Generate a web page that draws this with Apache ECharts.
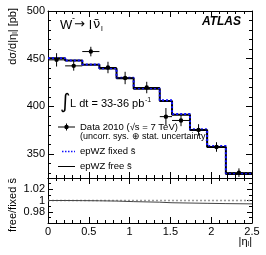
<!DOCTYPE html>
<html><head><meta charset="utf-8">
<script src="https://cdn.jsdelivr.net/npm/echarts@6/dist/echarts.min.js"></script>
<style>html,body{margin:0;padding:0;background:#fff}#c{width:266px;height:255px}</style>
</head><body><div id="c"></div>
<script>
// ---- data ----
const binEdges    = [0, 0.21, 0.42, 0.63, 0.84, 1.05, 1.37, 1.52, 1.74, 1.95, 2.18, 2.5];
const dataValues  = [448.8, 442.5, 457.5, 440.8, 429.8, 419.8, 389.3, 385.3, 375.4, 357.5, 330.6];
const dataErrors  = [7, 5, 5, 6, 6.5, 6, 9, 6, 6, 5, 4.5];
const fixedValues = [450.5, 448.2, 444.0, 440.0, 430.0, 419.0, 406.5, 392.0, 376.0, 358.5, 330.0];
const freeValues  = [450.4, 448.1, 443.8, 439.7, 429.5, 418.5, 405.8, 391.2, 375.2, 357.6, 329.2];
const ratioFixed  = [1, 1, 1, 1, 1, 1, 1, 1, 1, 1, 1];
const ratioFree   = [1.0, 0.9998, 0.9995, 0.999, 0.998, 0.997, 0.996, 0.9955, 0.995, 0.9945, 0.994];
const mainYLabels  = [350, 400, 450, 500];
const ratioYLabels = [0.98, 1, 1.02];

const FONT = 'Liberation Sans';
const n = dataValues.length;
const stepData = vals => binEdges.map((e, i) => [e, vals[Math.min(i, n - 1)]]);
const pointData = dataValues.map((v, i) => [binEdges[i], binEdges[i + 1], v, dataErrors[i], (binEdges[i] + binEdges[i + 1]) / 2]);

const G0 = {left: 48, top: 11, width: 204, height: 167};
const G1 = {left: 48, top: 178, width: 204, height: 45};

function xAx(grid, pos, labels) {
  return {
    type: 'value', gridIndex: grid, position: pos, min: 0, max: 2.5, interval: 0.5,
    axisLine: {show: true, onZero: false, lineStyle: {color: '#000', width: 1}},
    axisTick: {show: true, inside: true, length: 6, lineStyle: {color: '#000'}},
    minorTick: {show: true, splitNumber: 5, length: 3, lineStyle: {color: '#000'}},
    splitLine: {show: false}, minorSplitLine: {show: false},
    axisLabel: {show: labels, fontFamily: FONT, fontSize: 11, color: '#000', margin: 3,
      formatter: v => String(Math.round(v * 10) / 10)}
  };
}
function yMain(pos, labels) {
  return {
    type: 'value', gridIndex: 0, position: pos, min: 325, max: 500, splitNumber: 4,
    axisLine: {show: true, onZero: false, lineStyle: {color: '#000', width: 1}},
    axisTick: {show: true, inside: true, length: 6, lineStyle: {color: '#000'}},
    minorTick: {show: true, splitNumber: 5, length: 3, lineStyle: {color: '#000'}},
    splitLine: {show: false}, minorSplitLine: {show: false},
    axisLabel: {show: labels, fontFamily: FONT, fontSize: 11, color: '#000', margin: 3,
      formatter: v => mainYLabels.indexOf(Math.round(v)) >= 0 ? String(Math.round(v)) : ''}
  };
}
function yRatio(pos, labels) {
  return {
    type: 'value', gridIndex: 1, position: pos, min: 0.96, max: 1.04, interval: 0.02,
    axisLine: {show: true, onZero: false, lineStyle: {color: '#000', width: 1}},
    axisTick: {show: true, inside: true, length: 5, lineStyle: {color: '#000'}},
    minorTick: {show: true, splitNumber: 2, length: 3, lineStyle: {color: '#000'}},
    splitLine: {show: false}, minorSplitLine: {show: false},
    axisLabel: {show: labels, fontFamily: FONT, fontSize: 11, color: '#000', margin: 3,
      formatter: v => {
        const r = Math.round(v * 100) / 100;
        return ratioYLabels.some(t => Math.abs(t - r) < 1e-6) ? String(r) : '';
      }}
  };
}

const txt = (x, y, text, size, extra) => ({
  type: 'text', x: x, y: y, silent: true,
  style: Object.assign({text: text, fontFamily: FONT, fontSize: size, fill: '#000',
    textAlign: 'left', textVerticalAlign: 'middle'}, extra || {})
});
const seg = (x1, y1, x2, y2, style) => ({type: 'line', silent: true,
  shape: {x1, y1, x2, y2}, style: Object.assign({stroke: '#000', lineWidth: 1}, style || {})});

const chart = echarts.init(document.getElementById('c'), null, {renderer: 'canvas'});
chart.setOption({
  animation: false,
  backgroundColor: '#fff',
  grid: [G0, G1],
  xAxis: [xAx(0, 'bottom', false), xAx(0, 'top', false), xAx(1, 'bottom', true), xAx(1, 'top', false)],
  yAxis: [yMain('left', true), yMain('right', false), yRatio('left', true), yRatio('right', false)],
  series: [
    {type: 'line', name: 'epWZ free', xAxisIndex: 0, yAxisIndex: 0, step: 'end', symbol: 'none',
      data: stepData(freeValues), lineStyle: {color: '#000', width: 2}, z: 2},
    {type: 'line', name: 'epWZ fixed', xAxisIndex: 0, yAxisIndex: 0, step: 'end', symbol: 'none',
      data: stepData(fixedValues), lineStyle: {color: '#1010ff', width: 2, type: [2, 2]}, z: 3},
    {type: 'custom', name: 'Data 2010', xAxisIndex: 0, yAxisIndex: 0, z: 4,
      data: pointData, encode: {x: [0, 1, 4], y: [2]},
      renderItem: (params, api) => {
        const y = api.value(2), e = api.value(3), xc = api.value(4);
        const lo = api.coord([api.value(0), y]);
        const hi = api.coord([api.value(1), y]);
        const t = api.coord([xc, y + e]);
        const b = api.coord([xc, y - e]);
        const c = api.coord([xc, y]);
        return {type: 'group', children: [
          {type: 'line', shape: {x1: lo[0], y1: lo[1], x2: hi[0], y2: hi[1]}, style: {stroke: '#000', lineWidth: 1}},
          {type: 'line', shape: {x1: t[0], y1: t[1], x2: b[0], y2: b[1]}, style: {stroke: '#000', lineWidth: 1}},
          {type: 'circle', shape: {cx: c[0], cy: c[1], r: 2.2}, style: {fill: '#000'}}
        ]};
      }},
    {type: 'line', name: 'fixed/fixed', xAxisIndex: 2, yAxisIndex: 2, step: 'end', symbol: 'none',
      data: stepData(ratioFixed), lineStyle: {color: '#999', width: 1.5, type: [2, 2]}, z: 2},
    {type: 'line', name: 'free/fixed', xAxisIndex: 2, yAxisIndex: 2, step: 'end', symbol: 'none',
      data: stepData(ratioFree), lineStyle: {color: '#444', width: 1}, z: 3}
  ],
  graphic: [
    // axis titles
    {type: 'text', x: 13, y: 8, rotation: Math.PI / 2, silent: true,
      style: {text: 'dσ/d|η{s|l}| [pb]', fontFamily: FONT, fontSize: 11, fill: '#000',
        textAlign: 'right', textVerticalAlign: 'middle',
        rich: {s: {fontFamily: FONT, fontSize: 7, verticalAlign: 'bottom', padding: [4, 0, 0, 0]}}}},
    {type: 'text', x: 13, y: 205, rotation: Math.PI / 2, silent: true,
      style: {text: 'free/fixed s̄', fontFamily: FONT, fontSize: 11, fill: '#000',
        textAlign: 'center', textVerticalAlign: 'middle'}},
    {type: 'text', x: 252, y: 242, silent: true,
      style: {text: '|η{s|l}|', fontFamily: FONT, fontSize: 11, fill: '#000',
        textAlign: 'right', textVerticalAlign: 'middle',
        rich: {s: {fontFamily: FONT, fontSize: 7, verticalAlign: 'bottom', padding: [4, 0, 0, 0]}}}},
    // process label
    txt(60, 25, 'W', 13),
    txt(72, 19, '-', 9),
    txt(74, 25, '→', 13, {fontFamily: 'DejaVu Sans'}),
    txt(89, 25, 'l', 13),
    txt(93, 25, 'ν̄', 13, {fontFamily: 'DejaVu Sans'}),
    txt(101, 29, 'l', 8),
    // ATLAS
    txt(241, 22, 'ATLAS', 12, {textAlign: 'right', fontWeight: 'bold', fontStyle: 'italic'}),
    // luminosity
    txt(60, 103, '∫', 20, {fontFamily: 'DejaVu Sans'}),
    txt(70, 104, 'L dt = 33-36 pb', 11),
    txt(145, 100, '-1', 7),
    // legend
    seg(58, 127, 75, 127),
    seg(66.5, 123.5, 66.5, 130.5),
    {type: 'circle', silent: true, shape: {cx: 66.5, cy: 127, r: 2.2}, style: {fill: '#000'}},
    txt(80, 127, 'Data 2010 (√s = 7 TeV)', 9.5),
    txt(80, 137, '(uncorr. sys. ⊕ stat. uncertainty)', 9),
    seg(62, 151.5, 75, 151.5, {stroke: '#1010ff', lineWidth: 1.5, lineDash: [1.5, 1.5]}),
    txt(80, 151.5, 'epWZ fixed s̄', 9.5),
    seg(58, 166.5, 75, 166.5),
    txt(80, 166.5, 'epWZ free s̄', 9.5)
  ]
});
</script></body></html>
